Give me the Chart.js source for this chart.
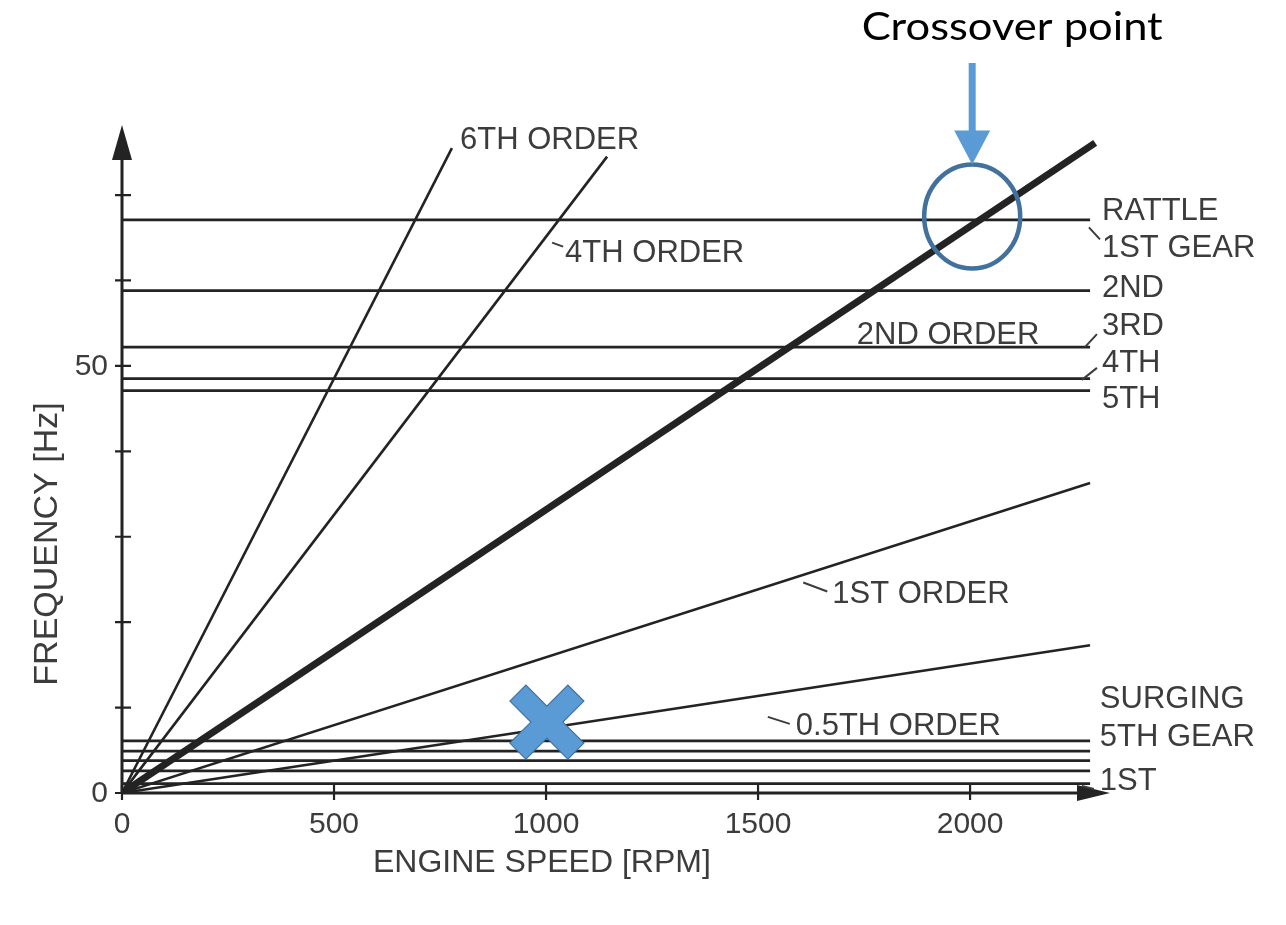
<!DOCTYPE html>
<html>
<head>
<meta charset="utf-8">
<script src="https://cdn.jsdelivr.net/npm/chart.js@4.4.0/dist/chart.umd.min.js"></script>
<style>
  html, body { margin: 0; padding: 0; background: #fff; }
  #wrap { width: 1286px; height: 925px; position: relative; }
</style>
</head>
<body>
<div id="wrap"><canvas id="orderChart" width="1286" height="925"></canvas></div>
<script>
// engine orders, straight lines from the origin (end point)
const orderNames = ['6TH ORDER', '4TH ORDER', '2ND ORDER', '1ST ORDER', '0.5TH ORDER'];
const orderEndRpm = [778, 1144, 2295, 2283, 2283];
const orderEndHz = [75.5, 74.5, 76.1, 36.3, 17.3];

// driveline resonance per gear (horizontal lines)
const rattleGears = ['1ST GEAR', '2ND', '3RD', '4TH', '5TH'];
const rattleHz = [67.1, 58.8, 52.2, 48.5, 47.1];
const surgingGears = ['5TH GEAR', '4TH', '3RD', '2ND', '1ST'];
const surgingHz = [6.1, 4.9, 3.8, 2.6, 1.1];
const gearLineEndRpm = 2283;

// axes
const xTicks = [0, 500, 1000, 1500, 2000];
const xTickLabels = ['0', '500', '1000', '1500', '2000'];
const yTicks = [0, 10, 20, 30, 40, 50, 60, 70];
const yTickLabels = ['0', '', '', '', '', '50', '', ''];
const xMax = 2330;
const yMax = 78.2;

const ink = '#232323';
const textInk = '#3c3c3c';

// text labels, placed in data units; hook = small leader stroke in px from (left, baseline)
const notes = [
  { text: '6TH ORDER', x: 797, y: 75.4 },
  { text: '4TH ORDER', x: 1045, y: 62.2, hook: [-13, -19, -2, -15] },
  { text: '2ND ORDER', x: 1733, y: 52.6 },
  { text: '1ST ORDER', x: 1675, y: 22.3, hook: [-29, -20, -5, -11] },
  { text: '0.5TH ORDER', x: 1589, y: 6.8, hook: [-28, -18, -6, -11] },
  { text: 'RATTLE', x: 2311, y: 67.1 },
  { text: '1ST GEAR', x: 2311, y: 62.7, hook: [-13, -30, -2, -18] },
  { text: '2ND', x: 2311, y: 58.1 },
  { text: '3RD', x: 2311, y: 53.6, hook: [-17, 12, -5, -1] },
  { text: '4TH', x: 2311, y: 49.3, hook: [-20, 8, -5, -4] },
  { text: '5TH', x: 2311, y: 45.1 },
  { text: 'SURGING', x: 2306, y: 10.0 },
  { text: '5TH GEAR', x: 2306, y: 5.5 },
  { text: '1ST', x: 2306, y: 0.35, hook: [-18, -4, -6, -1] }
];

const datasets = [];
orderNames.forEach((name, i) => {
  datasets.push({
    label: name,
    data: [{ x: 0, y: 0 }, { x: orderEndRpm[i], y: orderEndHz[i] }],
    borderColor: ink,
    borderWidth: name === '2ND ORDER' ? 7 : 2.6,
    borderCapStyle: 'butt'
  });
});
rattleGears.forEach((g, i) => {
  datasets.push({
    label: 'Rattle ' + g,
    data: [{ x: 0, y: rattleHz[i] }, { x: gearLineEndRpm, y: rattleHz[i] }],
    borderColor: ink,
    borderWidth: 2.8
  });
});
surgingGears.forEach((g, i) => {
  datasets.push({
    label: 'Surging ' + g,
    data: [{ x: 0, y: surgingHz[i] }, { x: gearLineEndRpm, y: surgingHz[i] }],
    borderColor: ink,
    borderWidth: 2.8
  });
});

function arrowHead(ctx, tipX, tipY, dirX, dirY, len, half) {
  const px = -dirY, py = dirX;
  ctx.beginPath();
  ctx.moveTo(tipX, tipY);
  ctx.lineTo(tipX - dirX * len + px * half, tipY - dirY * len + py * half);
  ctx.lineTo(tipX - dirX * len - px * half, tipY - dirY * len - py * half);
  ctx.closePath();
  ctx.fill();
}

const decorations = {
  id: 'decorations',
  afterDatasetsDraw(chart) {
    const ctx = chart.ctx;
    const xs = chart.scales.x, ys = chart.scales.y;
    const x0 = xs.getPixelForValue(0), y0 = ys.getPixelForValue(0);
    const xEnd = xs.getPixelForValue(xMax), yEnd = ys.getPixelForValue(yMax);
    ctx.save();
    ctx.strokeStyle = ink;
    ctx.fillStyle = ink;
    ctx.lineWidth = 3;
    // axis lines
    ctx.beginPath();
    ctx.moveTo(x0, y0);
    ctx.lineTo(x0, yEnd + 20);
    ctx.moveTo(x0, y0);
    ctx.lineTo(xEnd - 20, y0);
    ctx.stroke();
    arrowHead(ctx, x0, yEnd, 0, -1, 35, 10);
    arrowHead(ctx, xEnd, y0, 1, 0, 33, 8);
    // ticks
    ctx.lineWidth = 2.2;
    ctx.beginPath();
    yTicks.forEach(v => {
      const p = ys.getPixelForValue(v);
      ctx.moveTo(x0 - 7, p);
      ctx.lineTo(x0 + 9, p);
    });
    xTicks.forEach(v => {
      const p = xs.getPixelForValue(v);
      ctx.moveTo(p, y0 - 8);
      ctx.lineTo(p, y0 + 7);
    });
    ctx.stroke();
    // tick labels
    ctx.fillStyle = textInk;
    ctx.font = '30px "Liberation Sans", Arial, sans-serif';
    ctx.textAlign = 'right';
    ctx.textBaseline = 'middle';
    yTicks.forEach((v, i) => {
      if (yTickLabels[i]) ctx.fillText(yTickLabels[i], x0 - 14, ys.getPixelForValue(v) + 1);
    });
    ctx.textAlign = 'center';
    ctx.textBaseline = 'alphabetic';
    xTicks.forEach((v, i) => {
      ctx.fillText(xTickLabels[i], xs.getPixelForValue(v), y0 + 40);
    });
    // axis titles
    ctx.font = '32px "Liberation Sans", Arial, sans-serif';
    ctx.textAlign = 'left';
    ctx.fillText('ENGINE SPEED [RPM]', 373, y0 + 79);
    ctx.save();
    ctx.translate(57, 544);
    ctx.rotate(-Math.PI / 2);
    ctx.textAlign = 'center';
    ctx.font = '34px "Liberation Sans", Arial, sans-serif';
    ctx.fillText('FREQUENCY [Hz]', 0, 0);
    ctx.restore();
    // curve labels
    ctx.font = '31px "Liberation Sans", Arial, sans-serif';
    ctx.textAlign = 'left';
    ctx.strokeStyle = textInk;
    ctx.lineWidth = 2;
    notes.forEach(n => {
      const lx = xs.getPixelForValue(n.x), ly = ys.getPixelForValue(n.y);
      ctx.fillText(n.text, lx, ly);
      if (n.hook) {
        ctx.beginPath();
        ctx.moveTo(lx + n.hook[0], ly + n.hook[1]);
        ctx.lineTo(lx + n.hook[2], ly + n.hook[3]);
        ctx.stroke();
      }
    });
    ctx.restore();
  },
  afterDraw(chart) {
    const ctx = chart.ctx;
    const xs = chart.scales.x, ys = chart.scales.y;
    ctx.save();
    // crossover marker: rattle 1st gear meets 2nd order
    const cx = xs.getPixelForValue(2005), cy = ys.getPixelForValue(67.5);
    ctx.strokeStyle = '#41719C';
    ctx.lineWidth = 4.5;
    ctx.beginPath();
    ctx.ellipse(cx, cy, 48, 52, 0, 0, Math.PI * 2);
    ctx.stroke();
    // arrow down onto it
    ctx.fillStyle = '#5B9BD5';
    ctx.fillRect(cx - 3.5, 63, 7, cy - 52 - 63 - 30);
    arrowHead(ctx, cx, cy - 52, 0, 1, 34, 18);
    // caption, stretched to the reference width
    ctx.fillStyle = '#000';
    ctx.font = '38px Lato, "Noto Sans", sans-serif';
    ctx.textAlign = 'center';
    const cap = 'Crossover point';
    const w = ctx.measureText(cap).width;
    ctx.save();
    ctx.translate(cx + 40, 40);
    ctx.scale(301 / w, 1);
    ctx.fillText(cap, 0, 0);
    ctx.restore();
    // blue cross where 0.5th order leaves the surging band
    const mx = xs.getPixelForValue(1002), my = ys.getPixelForValue(8.3);
    const s = 37, a = 16;
    const pts = [[-s, -s + a], [-s + a, -s], [0, -a], [s - a, -s], [s, -s + a], [a, 0],
                 [s, s - a], [s - a, s], [0, a], [-s + a, s], [-s, s - a], [-a, 0]];
    ctx.beginPath();
    pts.forEach((p, i) => i ? ctx.lineTo(mx + p[0], my + p[1]) : ctx.moveTo(mx + p[0], my + p[1]));
    ctx.closePath();
    ctx.fillStyle = '#5B9BD5';
    ctx.fill();
    ctx.strokeStyle = '#41719C';
    ctx.lineWidth = 1.2;
    ctx.stroke();
    ctx.restore();
  }
};

new Chart(document.getElementById('orderChart'), {
  type: 'scatter',
  data: { datasets: datasets },
  options: {
    responsive: false,
    animation: false,
    showLine: true,
    elements: { point: { radius: 0, hoverRadius: 0 } },
    layout: { padding: { left: 122, right: 176, top: 125, bottom: 132 } },
    scales: {
      x: { type: 'linear', min: 0, max: xMax, display: false },
      y: { type: 'linear', min: 0, max: yMax, display: false }
    },
    plugins: { legend: { display: false }, tooltip: { enabled: false } }
  },
  plugins: [decorations]
});
</script>
</body>
</html>
